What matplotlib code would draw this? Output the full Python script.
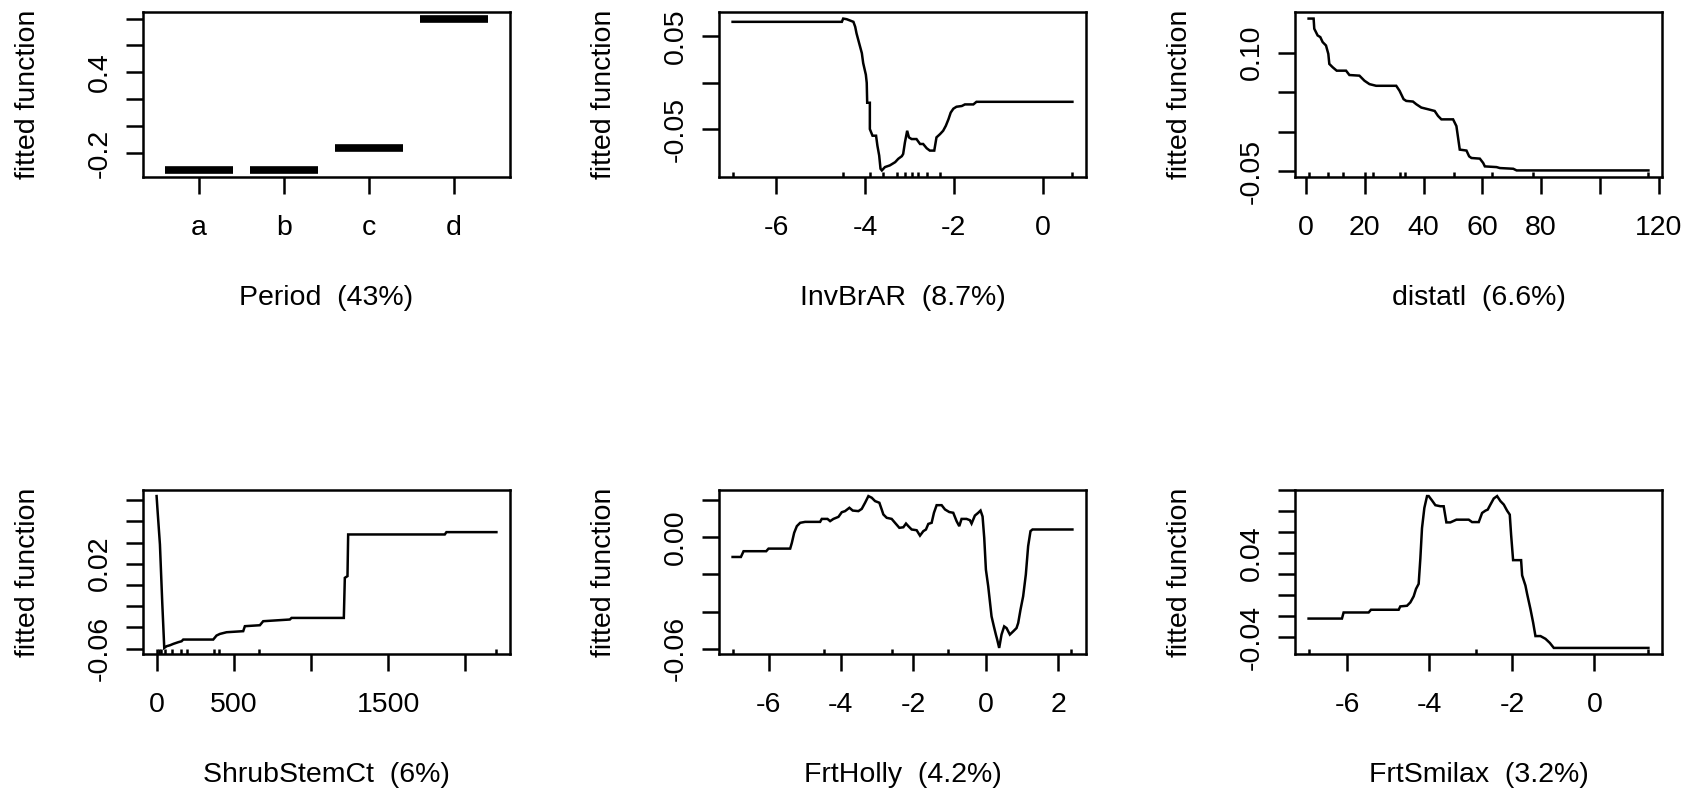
import numpy as np
import matplotlib.pyplot as plt

plt.rcParams['font.family'] = ['Liberation Sans', 'DejaVu Sans']

# ---- data ----
period_levels = ['a', 'b', 'c', 'd']
period_fit = [-0.329, -0.329, -0.163, 0.80]

invbrar_x = [-6.98, -4.52, -4.49, -4.41, -4.26, -4.22, -4.19, -4.13, -4.07, -4.04, -3.98, -3.96,
             -3.95, -3.89, -3.89, -3.83, -3.75, -3.72, -3.68, -3.65, -3.62, -3.55, -3.44, -3.32,
             -3.25, -3.17, -3.14, -3.10, -3.05, -3.01, -2.95, -2.84, -2.76, -2.69, -2.61, -2.54,
             -2.44, -2.39, -2.31, -2.24, -2.18, -2.12, -2.07, -2.01, -1.94, -1.82, -1.75, -1.56,
             -1.49, 0.67]
invbrar_y = [0.0652, 0.0652, 0.0687, 0.0680, 0.0652, 0.0599, 0.0528, 0.0421, 0.0315, 0.0209, 0.0084, -0.0004,
             -0.0217, -0.0217, -0.0500, -0.0571, -0.0571, -0.0678, -0.0784, -0.0926, -0.0944, -0.0908, -0.0890, -0.0855,
             -0.0819, -0.0791, -0.0767, -0.0642, -0.0518, -0.0589, -0.0607, -0.0607, -0.0660, -0.0660, -0.0706, -0.0731,
             -0.0731, -0.0589, -0.0554, -0.0518, -0.0465, -0.0394, -0.0323, -0.0281, -0.0260, -0.0252, -0.0235, -0.0235,
             -0.0207, -0.0207]
invbrar_rug = [-6.98, -4.49, -3.89, -3.60, -3.29, -3.10, -2.93, -2.80, -2.61, -2.31, 0.65]

distatl_x = [0.91, 2.62, 2.84, 3.98, 4.89, 5.69, 6.83, 7.62, 7.96, 9.10, 10.47, 13.65, 14.79, 18.20,
             19.91, 21.62, 23.89, 30.72, 31.85, 33.22, 34.13, 36.41, 37.54, 39.25, 41.52, 43.80, 44.94,
             46.08, 50.06, 51.19, 51.76, 52.33, 54.61, 55.52, 56.31, 59.16, 60.30, 60.86, 64.85, 65.98,
             70.53, 71.67, 116.5]
distatl_y = [0.1430, 0.1430, 0.1302, 0.1217, 0.1196, 0.1133, 0.1090, 0.0984, 0.0857, 0.0815, 0.0772, 0.0772,
             0.0717, 0.0709, 0.0645, 0.0602, 0.0581, 0.0581, 0.0518, 0.0412, 0.0390, 0.0382, 0.0348, 0.0306,
             0.0285, 0.0263, 0.0200, 0.0157, 0.0157, 0.0072, -0.0076, -0.0225, -0.0237, -0.0310, -0.0331,
             -0.0339, -0.0394, -0.0437, -0.0446, -0.0458, -0.0467, -0.0488, -0.0488]
distatl_rug = [0.91, 7.39, 12.74, 20.25, 22.98, 31.85, 33.56, 50.28, 63.37, 77.13, 116.5]

shrub_x = [0, 6.5, 21.6, 36.7, 49.6, 64.7, 86.3, 107.9, 140.2, 161.8, 172.6, 366.8, 388.3, 409.9,
           453.1, 560.9, 571.7, 668.8, 690.4, 863.0, 873.8, 1212.5, 1219.0, 1236.2, 1240.6, 1866.2,
           1877.0, 2200.6]
shrub_y = [0.0838, 0.0696, 0.0382, -0.0169, -0.0594, -0.0578, -0.0569, -0.0556, -0.0540, -0.0531,
           -0.0515, -0.0515, -0.0477, -0.0462, -0.0446, -0.0436, -0.0389, -0.0380, -0.0342, -0.0326,
           -0.0311, -0.0311, 0.0067, 0.0083, 0.0476, 0.0476, 0.0498, 0.0498]
shrub_rug = [0, 12.9, 25.9, 53.9, 97.1, 157.5, 194.2, 371.0, 403.7, 664.5, 2200.6]

holly_x = [-6.993, -6.763, -6.690, -6.064, -6.000, -5.402, -5.356, -5.292, -5.218, -5.126, -4.989,
           -4.575, -4.529, -4.372, -4.299, -4.207, -4.069, -3.977, -3.885, -3.766, -3.674, -3.517,
           -3.425, -3.333, -3.241, -3.149, -3.057, -2.938, -2.874, -2.828, -2.736, -2.598, -2.506,
           -2.386, -2.276, -2.202, -2.138, -2.046, -1.908, -1.816, -1.724, -1.651, -1.586, -1.494,
           -1.430, -1.356, -1.218, -1.126, -1.007, -0.897, -0.805, -0.731, -0.667, -0.529, -0.437,
           -0.391, -0.299, -0.207, -0.143, -0.087, -0.041, 0.005, 0.069, 0.115, 0.161, 0.225, 0.280,
           0.317, 0.372, 0.437, 0.510, 0.575, 0.667, 0.759, 0.851, 0.897, 0.961, 1.034, 1.108, 1.172,
           1.237, 1.292, 2.395]
holly_y = [-0.0106, -0.0106, -0.0075, -0.0075, -0.0061, -0.0061, -0.0030, 0.0024, 0.0060, 0.0078, 0.0083,
           0.0083, 0.0099, 0.0099, 0.0087, 0.0099, 0.0110, 0.0135, 0.0141, 0.0159, 0.0144, 0.0141,
           0.0153, 0.0186, 0.0222, 0.0213, 0.0195, 0.0186, 0.0150, 0.0123, 0.0105, 0.0099, 0.0078,
           0.0051, 0.0054, 0.0074, 0.0060, 0.0042, 0.0038, 0.0009, 0.0033, 0.0042, 0.0072, 0.0078,
           0.0132, 0.0173, 0.0173, 0.0150, 0.0136, 0.0132, 0.0087, 0.0060, 0.0099, 0.0099, 0.0092,
           0.0074, 0.0117, 0.0132, 0.0144, 0.0112, -0.0003, -0.0174, -0.0264, -0.0345, -0.0426, -0.0480,
           -0.0524, -0.0551, -0.0596, -0.0524, -0.0480, -0.0489, -0.0524, -0.0507, -0.0489, -0.0462,
           -0.0390, -0.0318, -0.0201, -0.0048, 0.0033, 0.0042, 0.0042]
holly_rug = [-6.993, -4.455, -2.598, -1.034, 2.368]

smilax_x = [-6.930, -6.121, -6.081, -5.474, -5.417, -4.746, -4.706, -4.544, -4.463, -4.382, -4.325,
            -4.261, -4.220, -4.180, -4.123, -4.058, -4.018, -3.937, -3.856, -3.735, -3.654, -3.589,
            -3.492, -3.346, -3.047, -2.966, -2.804, -2.723, -2.642, -2.586, -2.521, -2.440, -2.359,
            -2.278, -2.197, -2.117, -2.052, -2.019, -1.971, -1.777, -1.752, -1.672, -1.631, -1.550,
            -1.485, -1.429, -1.307, -1.186, -1.081, -0.984, 1.31]
smilax_y = [-0.0223, -0.0223, -0.0165, -0.0165, -0.0139, -0.0139, -0.0107, -0.0101, -0.0069, -0.0011,
            0.0060, 0.0108, 0.0350, 0.0639, 0.0832, 0.0945, 0.0945, 0.0903, 0.0858, 0.0848, 0.0848,
            0.0694, 0.0694, 0.0720, 0.0720, 0.0697, 0.0697, 0.0784, 0.0806, 0.0816, 0.0864, 0.0922,
            0.0945, 0.0897, 0.0864, 0.0806, 0.0768, 0.0575, 0.0334, 0.0334, 0.0189, 0.0092, 0.0012,
            -0.0133, -0.0262, -0.0390, -0.0390, -0.0416, -0.0455, -0.0503, -0.0503]
smilax_rug = [-6.93, -2.86, 1.31]

# ---- layout (pixels in the 1695x793 image) ----
W, H = 1695, 793
col_left = [143, 719, 1295]
ax_w = 367
row_top = [12.5, 490]
ax_h = 164

LW = 1.8
FS = 20.5

fig = plt.figure(figsize=(W / 100, H / 100), dpi=100)


def make_axes(row, col):
    left = col_left[col] / W
    bottom = 1 - (row_top[row] + ax_h) / H
    ax = fig.add_axes([left, bottom, ax_w / W, ax_h / H])
    for s in ax.spines.values():
        s.set_linewidth(LW)
    ax.tick_params(direction='out', length=12.5, width=LW, labelsize=FS, colors='black')
    ax.tick_params(axis='x', pad=15)
    ax.tick_params(axis='y', pad=9)
    return ax


def rlim(vals):
    # R style axis range: data range plus 4% each side
    lo, hi = min(vals), max(vals)
    d = (hi - lo) * 0.04
    return lo - d, hi + d


def finish(ax, xlabel, xticks, xlabels, yticks, ylabels):
    ax.set_xticks(xticks)
    ax.set_xticklabels(xlabels)
    ax.set_yticks(yticks)
    ax.set_yticklabels(ylabels, rotation=90, va='center')
    ax.set_xlabel(xlabel, fontsize=FS)
    ax.set_ylabel('fitted function', fontsize=FS)
    ax.xaxis.set_label_coords(0.5, -121 / ax_h)
    ax.xaxis.label.set_va('center')
    ax.yaxis.set_label_coords(-115 / ax_w, 0.5)
    ax.yaxis.label.set_va('center')


def line_panel(ax, x, y, rug):
    ax.plot(x, y, color='black', lw=LW, solid_joinstyle='miter')
    ax.vlines(rug, 0, 0.03, transform=ax.get_xaxis_transform(), color='black', lw=LW)
    ax.set_xlim(*rlim(x))
    ax.set_ylim(*rlim(y))


# Period (factor -> boxplot medians)
ax = make_axes(0, 0)
pos = np.arange(1, len(period_levels) + 1)
ax.hlines(period_fit, pos - 0.4, pos + 0.4, color='black', lw=5.5)
ax.set_xlim(*rlim([0.5, len(period_levels) + 0.5]))
ax.set_ylim(*rlim(period_fit))
finish(ax, 'Period  (43%)', pos, period_levels,
       [-0.2, 0.0, 0.2, 0.4, 0.6, 0.8], ['-0.2', '', '', '0.4', '', ''])

ax = make_axes(0, 1)
line_panel(ax, invbrar_x, invbrar_y, invbrar_rug)
finish(ax, 'InvBrAR  (8.7%)', [-6, -4, -2, 0], ['-6', '-4', '-2', '0'],
       [-0.05, 0.0, 0.05], ['-0.05', '', '0.05'])

ax = make_axes(0, 2)
line_panel(ax, distatl_x, distatl_y, distatl_rug)
finish(ax, 'distatl  (6.6%)', [0, 20, 40, 60, 80, 100, 120], ['0', '20', '40', '60', '80', '', '120'],
       [-0.05, 0.0, 0.05, 0.10], ['-0.05', '', '', '0.10'])

ax = make_axes(1, 0)
line_panel(ax, shrub_x, shrub_y, shrub_rug)
finish(ax, 'ShrubStemCt  (6%)', [0, 500, 1000, 1500, 2000], ['0', '500', '', '1500', ''],
       [-0.06, -0.04, -0.02, 0.0, 0.02, 0.04, 0.06, 0.08], ['-0.06', '', '', '', '0.02', '', '', ''])

ax = make_axes(1, 1)
line_panel(ax, holly_x, holly_y, holly_rug)
finish(ax, 'FrtHolly  (4.2%)', [-6, -4, -2, 0, 2], ['-6', '-4', '-2', '0', '2'],
       [-0.06, -0.04, -0.02, 0.0, 0.02], ['-0.06', '', '', '0.00', ''])

ax = make_axes(1, 2)
line_panel(ax, smilax_x, smilax_y, smilax_rug)
finish(ax, 'FrtSmilax  (3.2%)', [-6, -4, -2, 0], ['-6', '-4', '-2', '0'],
       [-0.04, -0.02, 0.0, 0.02, 0.04, 0.06, 0.08, 0.10], ['-0.04', '', '', '', '0.04', '', '', ''])

fig.savefig('out.png', dpi=100)
